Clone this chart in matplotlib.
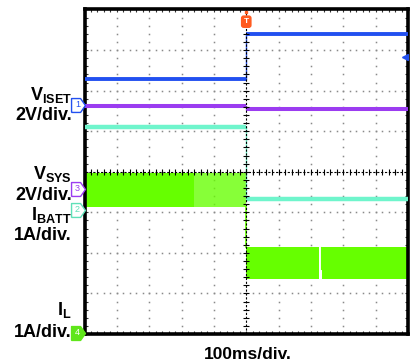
import numpy as np
import matplotlib
matplotlib.use('Agg')
import matplotlib.pyplot as plt
from matplotlib.ticker import MultipleLocator
import matplotlib.transforms as mtransforms

plt.rcParams['font.family'] = ['Liberation Sans', 'DejaVu Sans']
plt.rcParams['mathtext.fontset'] = 'custom'
plt.rcParams['mathtext.rm'] = 'Liberation Sans:bold'
plt.rcParams['mathtext.it'] = 'Liberation Sans:bold'
plt.rcParams['mathtext.bf'] = 'Liberation Sans:bold'

''' --- Scope data (time in ms, levels in divisions) --- '''
t_switch = 0
v_iset = [2.29, 3.40]     # before / after switch
v_sys = [1.63, 1.55]
i_batt = [1.11, -0.68]

# I_L noise band: (t start, t end, top, bottom)
il_bands = [(-500, -160, -0.03, -0.88),
            (-160, 0, -0.03, -0.88),
            (0, 226, -1.85, -2.64),
            (234, 500, -1.85, -2.64)]
il_alpha = [1.0, 0.78, 1.0, 1.0]

# channel ground markers
ch_names = ['1', '3', '2', '4']
ch_levels = [1.65, -0.42, -0.94, -3.97]
ch_colors = ['#2250f0', '#9b3cf0', '#5fe0b8', '#5fe61a']
ch_filled = [False, False, False, True]

labels = [r'$\mathrm{V}_{\mathrm{ISET}}$', '2V/div.', r'$\mathrm{V}_{\mathrm{SYS}}$', '2V/div.',
          r'$\mathrm{I}_{\mathrm{BATT}}$', '1A/div.', r'$\mathrm{I}_{\mathrm{L}}$', '1A/div.']
label_base = [100, 120, 179, 200, 220, 240, 315, 337]   # pixel baselines

blue = '#2250f0'
purple = '#9b3cf0'
teal = '#6ff5cc'
green = '#66ff00'

W, H = 411, 364
fig = plt.figure(figsize=(W/100, H/100), dpi=100)
ax = fig.add_axes([84.5/W, 30/H, 323.5/W, 324.5/H])
ax.set_xlim(-500, 500)
ax.set_ylim(-4, 4)

# grid dots
for gx in [-400, -300, -200, -100, 100, 200, 300, 400]:
    yy = np.arange(-4, 4.01, 0.2)
    ax.plot(np.full_like(yy, gx), yy, ls='none', marker='s', ms=1.1, color='#8a8a8a', mew=0)
for gy in [-3, -2, -1, 1, 2, 3]:
    xx = np.arange(-500, 501, 20)
    ax.plot(xx, np.full_like(xx, gy, dtype=float), ls='none', marker='s', ms=1.1, color='#8a8a8a', mew=0)

# traces
for (t0, t1, top, bot), a in zip(il_bands, il_alpha):
    ax.fill_between([t0, t1], [top, top], [bot, bot], color=green, alpha=a, lw=0, zorder=2)
ax.plot([t_switch, t_switch], [il_bands[1][3], il_bands[2][2]], color=green, lw=1.2, zorder=2)
ax.plot([230, 230], [-1.85, -2.4], color=green, lw=0.8, zorder=2)

for lev, c, w in [(i_batt, teal, 3.2), (v_sys, purple, 2.9), (v_iset, blue, 2.8)]:
    ax.plot([-500, t_switch], [lev[0], lev[0]], color=c, lw=w, solid_capstyle='butt', zorder=3)
    ax.plot([t_switch, 500], [lev[1], lev[1]], color=c, lw=w, solid_capstyle='butt', zorder=3)
    ax.plot([t_switch, t_switch], lev, color=c, lw=1.0, zorder=3)

# center cross with ticks
ax.axhline(0, color='k', lw=0.8, ls=(0, (2, 1.5)), zorder=4)
ax.axvline(0, color='k', lw=0.8, ls=(0, (2, 1.5)), zorder=4)
xt = np.arange(-500, 501, 20)
ax.plot(xt, np.zeros_like(xt), ls='none', marker='|', ms=4, mew=0.8, color='k', zorder=4)
yt = np.arange(-4, 4.01, 0.2)
ax.plot(np.zeros_like(yt), yt, ls='none', marker='_', ms=4, mew=0.8, color='k', zorder=4)

# frame
for s in ax.spines.values():
    s.set_linewidth(2.6)
ax.xaxis.set_major_locator(MultipleLocator(100))
ax.xaxis.set_minor_locator(MultipleLocator(20))
ax.yaxis.set_major_locator(MultipleLocator(1))
ax.yaxis.set_minor_locator(MultipleLocator(0.2))
ax.tick_params(which='both', direction='in', length=2.5, width=0.8, top=True, right=True,
               labelbottom=False, labelleft=False, colors='#333333')

# trigger marker
ax.text(0, 3.70, 'T', ha='center', va='center', fontsize=6, color='white', fontweight='bold',
        bbox=dict(boxstyle='round,pad=0.25', fc='#ff5a1e', ec='#ff5a1e'), zorder=6)
ax.plot([0], [3.93], marker='s', ms=2, color='#ff5a1e', zorder=6, clip_on=False)
# right side level marker
ax.plot([492], [2.83], marker='<', ms=5, color=blue, zorder=6)

# channel markers
trans = mtransforms.blended_transform_factory(fig.transFigure, ax.transData)
penta = [(-1, -1), (0.3, -1), (1, 0), (0.3, 1), (-1, 1), (-1, -1)]
for name, lev, c, f in zip(ch_names, ch_levels, ch_colors, ch_filled):
    ax.plot([78/W], [lev], transform=trans, marker=penta, ms=10, mew=1,
            mec=c, mfc=c if f else 'white', clip_on=False, zorder=7)
    ax.text(77.5/W, lev, name, transform=trans, ha='center', va='center', fontsize=6.5,
            color='white' if f else c, clip_on=False, zorder=8)

# channel labels
for lab, yb in zip(labels, label_base):
    fig.text(72/W, 1 - yb/H, lab, ha='right', va='baseline', fontsize=13, fontweight='bold')
fig.text(248/W, 1 - 359/H, '100ms/div.', ha='center', va='baseline', fontsize=12.5, fontweight='bold')

fig.savefig('out.png', dpi=100)
